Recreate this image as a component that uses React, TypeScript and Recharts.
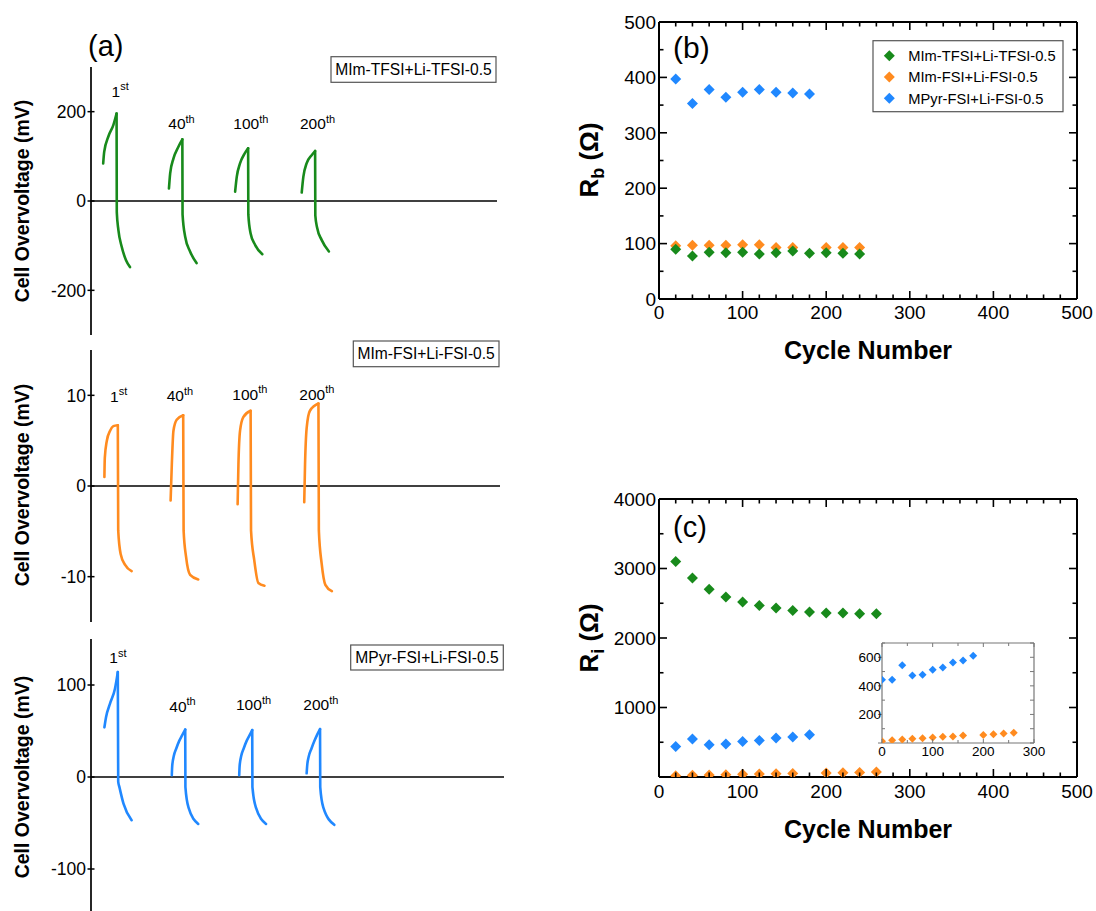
import React from 'react';
import { LineChart, Line, XAxis, YAxis, ReferenceLine, ScatterChart, Scatter } from 'recharts';

const FONT = "'Liberation Sans', Arial, Helvetica, sans-serif";
const GREEN = '#188A1B';
const ORANGE = '#FF8B1F';
const BLUE = '#2088FF';

// ---------- (a) cell overvoltage profiles (time in arbitrary units, overvoltage in mV) ----------
const tfsiCycle1 = [
  { t: 3.0, v: 84 }, { t: 3.25, v: 110 }, { t: 4.3, v: 145 }, { t: 5.5, v: 170 }, { t: 6.3, v: 196 },
  { t: 6.35, v: -25 }, { t: 6.75, v: -65 }, { t: 7.55, v: -102 }, { t: 8.6, v: -132 }, { t: 9.6, v: -148 },
];
const tfsiCycle40 = [
  { t: 19.2, v: 28 }, { t: 19.5, v: 62 }, { t: 20.3, v: 95 }, { t: 21.5, v: 121 }, { t: 22.5, v: 138 },
  { t: 22.55, v: -30 }, { t: 23.2, v: -80 }, { t: 24.4, v: -113 }, { t: 26.0, v: -139 },
];
const tfsiCycle100 = [
  { t: 35.5, v: 21 }, { t: 35.9, v: 54 }, { t: 36.7, v: 84 }, { t: 37.9, v: 107 }, { t: 38.7, v: 118 },
  { t: 38.75, v: -30 }, { t: 39.3, v: -72 }, { t: 40.4, v: -98 }, { t: 42.2, v: -119 },
];
const tfsiCycle200 = [
  { t: 51.9, v: 19 }, { t: 52.3, v: 54 }, { t: 53.1, v: 84 }, { t: 54.4, v: 103 }, { t: 55.2, v: 112 },
  { t: 55.25, v: -32 }, { t: 55.7, v: -60 }, { t: 56.8, v: -87 }, { t: 58.6, v: -113 },
];

const fsiCycle1 = [
  { t: 3.3, v: 1.0 }, { t: 3.4, v: 3.1 }, { t: 3.9, v: 5.0 }, { t: 4.7, v: 6.1 }, { t: 5.5, v: 6.6 }, { t: 6.6, v: 6.7 },
  { t: 6.7, v: -4.9 }, { t: 7.3, v: -7.5 }, { t: 8.4, v: -8.7 }, { t: 10.0, v: -9.4 },
];
const fsiCycle40 = [
  { t: 19.6, v: -1.6 }, { t: 19.9, v: 2.4 }, { t: 20.3, v: 6.1 }, { t: 21.1, v: 7.3 }, { t: 22.7, v: 7.8 },
  { t: 22.8, v: -4.9 }, { t: 23.4, v: -7.8 }, { t: 24.4, v: -9.8 }, { t: 26.4, v: -10.3 },
];
const fsiCycle100 = [
  { t: 36.1, v: -2.0 }, { t: 36.3, v: 2.4 }, { t: 36.7, v: 6.1 }, { t: 37.5, v: 7.6 }, { t: 39.3, v: 8.3 },
  { t: 39.4, v: -4.9 }, { t: 40.2, v: -8.2 }, { t: 41.2, v: -10.7 }, { t: 42.7, v: -11.0 },
];
const fsiCycle200 = [
  { t: 52.5, v: -1.8 }, { t: 52.7, v: 2.4 }, { t: 53.1, v: 6.4 }, { t: 53.9, v: 8.3 }, { t: 56.0, v: 9.1 },
  { t: 56.1, v: -4.9 }, { t: 56.8, v: -8.6 }, { t: 57.7, v: -10.9 }, { t: 59.3, v: -11.6 },
];

const pyrCycle1 = [
  { t: 3.3, v: 54 }, { t: 3.7, v: 65 }, { t: 4.7, v: 80 }, { t: 5.9, v: 96 }, { t: 6.6, v: 114 },
  { t: 6.7, v: -5 }, { t: 7.0, v: -11 }, { t: 8.0, v: -29 }, { t: 10.0, v: -47 },
];
const pyrCycle40 = [
  { t: 19.9, v: 2 }, { t: 20.0, v: 12 }, { t: 20.4, v: 23 }, { t: 21.0, v: 31 }, { t: 21.7, v: 39 }, { t: 22.4, v: 45 }, { t: 23.2, v: 51.5 },
  { t: 23.25, v: -11 }, { t: 24.0, v: -33 }, { t: 26.4, v: -51 },
];
const pyrCycle100 = [
  { t: 36.5, v: 2 }, { t: 36.6, v: 12 }, { t: 37.0, v: 23 }, { t: 37.6, v: 31 }, { t: 38.3, v: 39 }, { t: 39.0, v: 45 }, { t: 39.7, v: 51 },
  { t: 39.75, v: -11 }, { t: 40.6, v: -33 }, { t: 43.1, v: -51 },
];
const pyrCycle200 = [
  { t: 53.1, v: 4 }, { t: 53.25, v: 13 }, { t: 53.6, v: 22 }, { t: 54.3, v: 31 }, { t: 55.0, v: 39 }, { t: 55.7, v: 46 }, { t: 56.4, v: 52 },
  { t: 56.45, v: -11 }, { t: 57.2, v: -33 }, { t: 59.9, v: -52 },
];

const tfsiTicks = [-200, 0, 200];
const fsiTicks = [-10, 0, 10];
const pyrTicks = [-100, 0, 100];
const cycleNames = ['1', '40', '100', '200'];
const cycleSups = ['st', 'th', 'th', 'th'];

// ---------- (b) Rb vs cycle number ----------
const rbTfsi = [
  { x: 20, y: 89.6 }, { x: 40, y: 77.5 }, { x: 60, y: 84.2 }, { x: 80, y: 83.6 }, { x: 100, y: 84.2 }, { x: 120, y: 81.1 },
  { x: 140, y: 83.6 }, { x: 160, y: 86.5 }, { x: 180, y: 82.4 }, { x: 200, y: 83.6 }, { x: 220, y: 82.4 }, { x: 240, y: 81.1 },
];
const rbFsi = [
  { x: 20, y: 96 }, { x: 40, y: 97 }, { x: 60, y: 97 }, { x: 80, y: 97 }, { x: 100, y: 98 }, { x: 120, y: 98 },
  { x: 140, y: 93 }, { x: 160, y: 93 }, { x: 200, y: 93 }, { x: 220, y: 93 }, { x: 240, y: 93 },
];
const rbPyr = [
  { x: 20, y: 397 }, { x: 40, y: 353 }, { x: 60, y: 378 }, { x: 80, y: 364 }, { x: 100, y: 373 }, { x: 120, y: 378 },
  { x: 140, y: 373 }, { x: 160, y: 372 }, { x: 180, y: 370 },
];

// ---------- (c) Ri vs cycle number ----------
const riTfsi = [
  { x: 20, y: 3100 }, { x: 40, y: 2865 }, { x: 60, y: 2703 }, { x: 80, y: 2590 }, { x: 100, y: 2518 }, { x: 120, y: 2468 },
  { x: 140, y: 2430 }, { x: 160, y: 2396 }, { x: 180, y: 2374 }, { x: 200, y: 2358 }, { x: 220, y: 2358 }, { x: 240, y: 2348 },
  { x: 260, y: 2348 },
];
const riFsi = [
  { x: 20, y: 19 }, { x: 40, y: 24 }, { x: 60, y: 29 }, { x: 80, y: 34 }, { x: 100, y: 38 }, { x: 120, y: 43 },
  { x: 140, y: 46 }, { x: 160, y: 52 }, { x: 200, y: 56 }, { x: 220, y: 61 }, { x: 240, y: 66 }, { x: 260, y: 72 },
];
const riPyr = [
  { x: 20, y: 440 }, { x: 40, y: 545 }, { x: 60, y: 465 }, { x: 80, y: 475 }, { x: 100, y: 510 }, { x: 120, y: 526 },
  { x: 140, y: 560 }, { x: 160, y: 575 }, { x: 180, y: 607 },
];
// inset (zoom of the two FSI electrolytes)
const insetFsi = [
  { x: 0, y: 12 }, { x: 20, y: 19 }, { x: 40, y: 24 }, { x: 60, y: 29 }, { x: 80, y: 34 }, { x: 100, y: 38 }, { x: 120, y: 43 },
  { x: 140, y: 45 }, { x: 160, y: 52 }, { x: 200, y: 56 }, { x: 220, y: 61 }, { x: 240, y: 66 }, { x: 260, y: 72 },
];
const insetPyr = [
  { x: 0, y: 442 }, { x: 20, y: 442 }, { x: 40, y: 545 }, { x: 60, y: 472 }, { x: 80, y: 477 }, { x: 100, y: 512 },
  { x: 120, y: 528 }, { x: 140, y: 563 }, { x: 160, y: 578 }, { x: 180, y: 610 },
];

const cycleTicks = [0, 20, 40, 60, 80, 100, 120, 140, 160, 180, 200, 220, 240, 260, 280, 300, 320, 340, 360, 380, 400, 420, 440, 460, 480, 500];
const cycleLabels = [0, 100, 200, 300, 400, 500];
const rbTicks = [0, 50, 100, 150, 200, 250, 300, 350, 400, 450, 500];
const rbLabels = [0, 100, 200, 300, 400, 500];
const riTicks = [0, 500, 1000, 1500, 2000, 2500, 3000, 3500, 4000];
const riLabels = [1000, 2000, 3000, 4000];
const insetXTicks = [0, 50, 100, 150, 200, 250, 300];
const insetXLabels = [0, 100, 200, 300];
const insetYTicks = [0, 100, 200, 300, 400, 500, 600, 700];
const insetYLabels = [200, 400, 600];

const legendItems = [
  { name: 'MIm-TFSI+Li-TFSI-0.5', color: GREEN },
  { name: 'MIm-FSI+Li-FSI-0.5', color: ORANGE },
  { name: 'MPyr-FSI+Li-FSI-0.5', color: BLUE },
];

// ---------- tick renderers ----------
type Side = 'left' | 'right' | 'top' | 'bottom';
interface TickCfg {
  side: Side;
  majorEvery: number;
  majorLen: number;
  minorLen: number;
  outLen?: number;
  labels?: number[];
  fontSize?: number;
  gap?: number;
  color?: string;
  width?: number;
}

function makeTick(cfg: TickCfg) {
  return (props: any) => {
    const { x, y, payload } = props;
    const v: number = payload.value;
    const r = v / cfg.majorEvery;
    const major = Math.abs(r - Math.round(r)) < 1e-6;
    const len = major ? cfg.majorLen : cfg.minorLen;
    const out = major ? cfg.outLen ?? 0 : 0;
    const color = cfg.color ?? '#000';
    const sw = cfg.width ?? 1.5;
    let line: React.ReactNode = null;
    let label: React.ReactNode = null;
    const show = cfg.labels ? cfg.labels.includes(v) : false;
    const fs = cfg.fontSize ?? 18;
    const gap = cfg.gap ?? 4;
    if (cfg.side === 'left') {
      line = <line x1={x - out} y1={y} x2={x + len} y2={y} stroke={color} strokeWidth={sw} />;
      if (show) label = <text x={x - gap} y={y} dy="0.36em" textAnchor="end" fontSize={fs} fontFamily={FONT} fill="#000">{String(v)}</text>;
    } else if (cfg.side === 'right') {
      line = <line x1={x} y1={y} x2={x - len} y2={y} stroke={color} strokeWidth={sw} />;
    } else if (cfg.side === 'top') {
      line = <line x1={x} y1={y} x2={x} y2={y + len} stroke={color} strokeWidth={sw} />;
    } else {
      line = <line x1={x} y1={y + out} x2={x} y2={y - len} stroke={color} strokeWidth={sw} />;
      if (show) label = <text x={x} y={y + gap} textAnchor="middle" fontSize={fs} fontFamily={FONT} fill="#000">{String(v)}</text>;
    }
    return <g>{line}{label}</g>;
  };
}

const diamond = (size: number, color: string) => (props: any) => {
  const { cx, cy } = props;
  if (cx == null || cy == null) return <g />;
  return (
    <polygon
      points={`${cx},${cy - size} ${cx + size},${cy} ${cx},${cy + size} ${cx - size},${cy}`}
      fill={color}
    />
  );
};

// split one cycle into its charge branch (up to the peak) and its discharge branch (from the peak on)
function splitCycle(d: { t: number; v: number }[]) {
  let peak = 0;
  d.forEach((p, i) => { if (p.v > d[peak].v) peak = i; });
  return [d.slice(0, peak + 1), d.slice(peak)];
}

// ---------- (a) panel chart ----------
interface ProfileProps {
  top: number;
  height: number;
  margin: { top: number; right: number; bottom: number; left: number };
  tMax: number;
  yDomain: [number, number];
  ticks: number[];
  color: string;
  cycles: { t: number; v: number }[][];
}

function ProfileChart({ top, height, margin, tMax, yDomain, ticks, color, cycles }: ProfileProps) {
  const branches = cycles.flatMap(splitCycle);
  return (
    <div style={{ position: 'absolute', left: 0, top, width: 520, height }}>
      <LineChart width={520} height={height} margin={margin}>
        <XAxis dataKey="t" type="number" domain={[0, tMax]} allowDataOverflow hide />
        <YAxis
          type="number"
          domain={yDomain}
          allowDataOverflow
          ticks={ticks}
          interval={0}
          width={91}
          tickSize={0}
          tickMargin={0}
          tickLine={false}
          axisLine={{ stroke: '#000', strokeWidth: 1.7 }}
          tick={makeTick({ side: 'left', majorEvery: 1, majorLen: 3.5, minorLen: 3.5, outLen: 3.5, labels: ticks, fontSize: 17.5, gap: 5, width: 1.5 })}
        />
        <ReferenceLine y={0} stroke="#000" strokeWidth={1.7} />
        {branches.map((d, i) => (
          <Line
            key={i}
            data={d}
            dataKey="v"
            type="monotone"
            stroke={color}
            strokeWidth={2.6}
            strokeLinejoin="round"
            strokeLinecap="round"
            dot={false}
            activeDot={false}
            isAnimationActive={false}
          />
        ))}
      </LineChart>
    </div>
  );
}

function CycleLabel({ x, y, i }: { x: number; y: number; i: number }) {
  return (
    <text x={x} y={y} fontSize={15.5} fontFamily={FONT} fill="#000">
      {cycleNames[i]}
      <tspan fontSize={11} dy={-6.5}>{cycleSups[i]}</tspan>
    </text>
  );
}

function BoxLabel({ x, y, w, h, text }: { x: number; y: number; w: number; h: number; text: string }) {
  return (
    <g>
      <rect x={x} y={y} width={w} height={h} fill="#fff" stroke="#555" strokeWidth={1.2} />
      <text x={x + w / 2} y={y + h / 2} dy="0.36em" textAnchor="middle" fontSize={15.6} fontFamily={FONT} fill="#000">{text}</text>
    </g>
  );
}

const frameAxis = { stroke: '#000', strokeWidth: 2 };

export default function App() {
  return (
    <div style={{ position: 'absolute', left: 0, top: 0, width: 1096, height: 911, overflow: 'hidden', background: '#fff', fontFamily: FONT }}>
      {/* (a) top: MIm-TFSI */}
      <ProfileChart
        top={0}
        height={340}
        margin={{ top: 67, right: 23, bottom: 5, left: 0 }}
        tMax={100}
        yDomain={[-300, 300]}
        ticks={tfsiTicks}
        color={GREEN}
        cycles={[tfsiCycle1, tfsiCycle40, tfsiCycle100, tfsiCycle200]}
      />
      {/* (a) middle: MIm-FSI */}
      <ProfileChart
        top={340}
        height={290}
        margin={{ top: 10, right: 20, bottom: 8, left: 0 }}
        tMax={100.7}
        yDomain={[-15, 15]}
        ticks={fsiTicks}
        color={ORANGE}
        cycles={[fsiCycle1, fsiCycle40, fsiCycle100, fsiCycle200]}
      />
      {/* (a) bottom: MPyr-FSI */}
      <ProfileChart
        top={630}
        height={290}
        margin={{ top: 9, right: 16, bottom: 5, left: 0 }}
        tMax={101.7}
        yDomain={[-150, 150]}
        ticks={pyrTicks}
        color={BLUE}
        cycles={[pyrCycle1, pyrCycle40, pyrCycle100, pyrCycle200]}
      />

      {/* (b) Rb */}
      <div style={{ position: 'absolute', left: 560, top: 0, width: 536, height: 370 }}>
        <ScatterChart width={536} height={370} margin={{ top: 21, right: 18, bottom: 41, left: 0 }}>
          <XAxis dataKey="x" type="number" domain={[0, 500]} allowDataOverflow ticks={cycleTicks} interval={0} height={30}
            tickSize={0} tickMargin={0} tickLine={false} axisLine={frameAxis}
            tick={makeTick({ side: 'bottom', majorEvery: 100, majorLen: 8, minorLen: 4.5, labels: cycleLabels, fontSize: 19, gap: 19.5, width: 1.6 })} />
          <XAxis xAxisId="top" orientation="top" dataKey="x" type="number" domain={[0, 500]} allowDataOverflow ticks={cycleTicks} interval={0} height={1}
            tickSize={0} tickMargin={0} tickLine={false} axisLine={frameAxis}
            tick={makeTick({ side: 'top', majorEvery: 100, majorLen: 8, minorLen: 4.5, width: 1.6 })} />
          <YAxis dataKey="y" type="number" domain={[0, 500]} allowDataOverflow ticks={rbTicks} interval={0} width={99}
            tickSize={0} tickMargin={0} tickLine={false} axisLine={frameAxis}
            tick={makeTick({ side: 'left', majorEvery: 100, majorLen: 8, minorLen: 4.5, labels: rbLabels, fontSize: 19, gap: 3, width: 1.6 })} />
          <YAxis yAxisId="right" orientation="right" dataKey="y" type="number" domain={[0, 500]} allowDataOverflow ticks={rbTicks} interval={0} width={1}
            tickSize={0} tickMargin={0} tickLine={false} axisLine={frameAxis}
            tick={makeTick({ side: 'right', majorEvery: 100, majorLen: 8, minorLen: 4.5, width: 1.6 })} />
          <Scatter data={rbFsi} fill={ORANGE} shape={diamond(5.5, ORANGE)} isAnimationActive={false} />
          <Scatter data={rbTfsi} fill={GREEN} shape={diamond(5.5, GREEN)} isAnimationActive={false} />
          <Scatter data={rbPyr} fill={BLUE} shape={diamond(5.5, BLUE)} isAnimationActive={false} />
        </ScatterChart>
      </div>

      {/* (c) Ri */}
      <div style={{ position: 'absolute', left: 560, top: 470, width: 536, height: 400 }}>
        <ScatterChart width={536} height={400} margin={{ top: 28, right: 18, bottom: 63, left: 0 }}>
          <XAxis dataKey="x" type="number" domain={[0, 500]} allowDataOverflow ticks={cycleTicks} interval={0} height={30}
            tickSize={0} tickMargin={0} tickLine={false} axisLine={frameAxis}
            tick={makeTick({ side: 'bottom', majorEvery: 100, majorLen: 8, minorLen: 4.5, labels: cycleLabels, fontSize: 19, gap: 20.5, width: 1.6 })} />
          <XAxis xAxisId="top" orientation="top" dataKey="x" type="number" domain={[0, 500]} allowDataOverflow ticks={cycleTicks} interval={0} height={1}
            tickSize={0} tickMargin={0} tickLine={false} axisLine={frameAxis}
            tick={makeTick({ side: 'top', majorEvery: 100, majorLen: 8, minorLen: 4.5, width: 1.6 })} />
          <YAxis dataKey="y" type="number" domain={[0, 4000]} allowDataOverflow ticks={riTicks} interval={0} width={99}
            tickSize={0} tickMargin={0} tickLine={false} axisLine={frameAxis}
            tick={makeTick({ side: 'left', majorEvery: 1000, majorLen: 8, minorLen: 4.5, labels: riLabels, fontSize: 19, gap: 3, width: 1.6 })} />
          <YAxis yAxisId="right" orientation="right" dataKey="y" type="number" domain={[0, 4000]} allowDataOverflow ticks={riTicks} interval={0} width={1}
            tickSize={0} tickMargin={0} tickLine={false} axisLine={frameAxis}
            tick={makeTick({ side: 'right', majorEvery: 1000, majorLen: 8, minorLen: 4.5, width: 1.6 })} />
          <Scatter data={riFsi} fill={ORANGE} shape={diamond(5.5, ORANGE)} isAnimationActive={false} />
          <Scatter data={riTfsi} fill={GREEN} shape={diamond(5.5, GREEN)} isAnimationActive={false} />
          <Scatter data={riPyr} fill={BLUE} shape={diamond(5.5, BLUE)} isAnimationActive={false} />
        </ScatterChart>
      </div>

      {/* (c) inset */}
      <div style={{ position: 'absolute', left: 840, top: 630, width: 210, height: 140 }}>
        <ScatterChart width={210} height={140} margin={{ top: 12, right: 15, bottom: 7, left: 0 }}>
          <XAxis dataKey="x" type="number" domain={[0, 300]} allowDataOverflow ticks={insetXTicks} interval={0} height={20}
            tickSize={0} tickMargin={0} tickLine={false} axisLine={{ stroke: '#777', strokeWidth: 1.2 }}
            tick={makeTick({ side: 'bottom', majorEvery: 100, majorLen: 4, minorLen: 3, labels: insetXLabels, fontSize: 13.5, gap: 13, color: '#777', width: 1 })} />
          <XAxis xAxisId="top" orientation="top" dataKey="x" type="number" domain={[0, 300]} allowDataOverflow ticks={insetXTicks} interval={0} height={1}
            tickSize={0} tickMargin={0} tickLine={false} axisLine={{ stroke: '#777', strokeWidth: 1.2 }}
            tick={makeTick({ side: 'top', majorEvery: 100, majorLen: 4, minorLen: 3, color: '#777', width: 1 })} />
          <YAxis dataKey="y" type="number" domain={[0, 700]} allowDataOverflow ticks={insetYTicks} interval={0} width={42}
            tickSize={0} tickMargin={0} tickLine={false} axisLine={{ stroke: '#777', strokeWidth: 1.2 }}
            tick={makeTick({ side: 'left', majorEvery: 200, majorLen: 0, minorLen: 3, outLen: 4, labels: insetYLabels, fontSize: 13.5, gap: 1, color: '#777', width: 1 })} />
          <YAxis yAxisId="right" orientation="right" dataKey="y" type="number" domain={[0, 700]} allowDataOverflow ticks={insetYTicks} interval={0} width={1}
            tickSize={0} tickMargin={0} tickLine={false} axisLine={{ stroke: '#777', strokeWidth: 1.2 }}
            tick={makeTick({ side: 'right', majorEvery: 100, majorLen: 4, minorLen: 4, color: '#777', width: 1 })} />
          <Scatter data={insetFsi} fill={ORANGE} shape={diamond(4, ORANGE)} isAnimationActive={false} />
          <Scatter data={insetPyr} fill={BLUE} shape={diamond(4, BLUE)} isAnimationActive={false} />
        </ScatterChart>
      </div>

      {/* annotations */}
      <svg width={1096} height={911} style={{ position: 'absolute', left: 0, top: 0, pointerEvents: 'none' }}>
        <text x={88} y={56} fontSize={29} fontFamily={FONT} fill="#000">(a)</text>
        <text transform="translate(29,201) rotate(-90)" textAnchor="middle" fontSize={19.5} fontWeight="bold" fontFamily={FONT} fill="#000">Cell Overvoltage (mV)</text>
        <text transform="translate(29,485) rotate(-90)" textAnchor="middle" fontSize={19.5} fontWeight="bold" fontFamily={FONT} fill="#000">Cell Overvoltage (mV)</text>
        <text transform="translate(28.5,777) rotate(-90)" textAnchor="middle" fontSize={19.5} fontWeight="bold" fontFamily={FONT} fill="#000">Cell Overvoltage (mV)</text>

        <CycleLabel x={111.5} y={96.5} i={0} />
        <CycleLabel x={168.3} y={129.3} i={1} />
        <CycleLabel x={233.3} y={129} i={2} />
        <CycleLabel x={300} y={129} i={3} />

        <CycleLabel x={110} y={401.5} i={0} />
        <CycleLabel x={166.7} y={401} i={1} />
        <CycleLabel x={232.3} y={399.5} i={2} />
        <CycleLabel x={299.3} y={399.5} i={3} />

        <CycleLabel x={109.3} y={663.3} i={0} />
        <CycleLabel x={169.3} y={711.7} i={1} />
        <CycleLabel x={236} y={710} i={2} />
        <CycleLabel x={303.3} y={710} i={3} />

        <BoxLabel x={331} y={56.7} w={165} h={25.6} text={legendItems[0].name} />
        <BoxLabel x={353.3} y={341} w={145.7} h={25.7} text={legendItems[1].name} />
        <BoxLabel x={350.7} y={645} w={152.6} h={25} text={legendItems[2].name} />

        <text x={673} y={58} fontSize={30} fontFamily={FONT} fill="#000">(b)</text>
        <text x={673} y={537} fontSize={29} fontFamily={FONT} fill="#000">(c)</text>

        <text transform="translate(598,160) rotate(-90)" textAnchor="middle" fontSize={26} fontWeight="bold" fontFamily={FONT} fill="#000">
          R<tspan fontSize={18} dy={6}>b</tspan><tspan dy={-6}> (Ω)</tspan>
        </text>
        <text transform="translate(598,638) rotate(-90)" textAnchor="middle" fontSize={26} fontWeight="bold" fontFamily={FONT} fill="#000">
          R<tspan fontSize={18} dy={6}>i</tspan><tspan dy={-6}> (Ω)</tspan>
        </text>

        <text x={868} y={359} textAnchor="middle" fontSize={25} fontWeight="bold" fontFamily={FONT} fill="#000">Cycle Number</text>
        <text x={868} y={838} textAnchor="middle" fontSize={25} fontWeight="bold" fontFamily={FONT} fill="#000">Cycle Number</text>

        {/* legend of (b) */}
        <rect x={873} y={40.7} width={190} height={71} fill="#fff" stroke="#555" strokeWidth={1.2} />
        {legendItems.map((it, i) => {
          const cy = 55.7 + i * 21.3;
          return (
            <g key={it.name}>
              <polygon points={`889.3,${cy - 5.5} 894.8,${cy} 889.3,${cy + 5.5} 883.8,${cy}`} fill={it.color} />
              <text x={908.3} y={cy} dy="0.36em" fontSize={14.7} fontFamily={FONT} fill="#000">{it.name}</text>
            </g>
          );
        })}
      </svg>
    </div>
  );
}
